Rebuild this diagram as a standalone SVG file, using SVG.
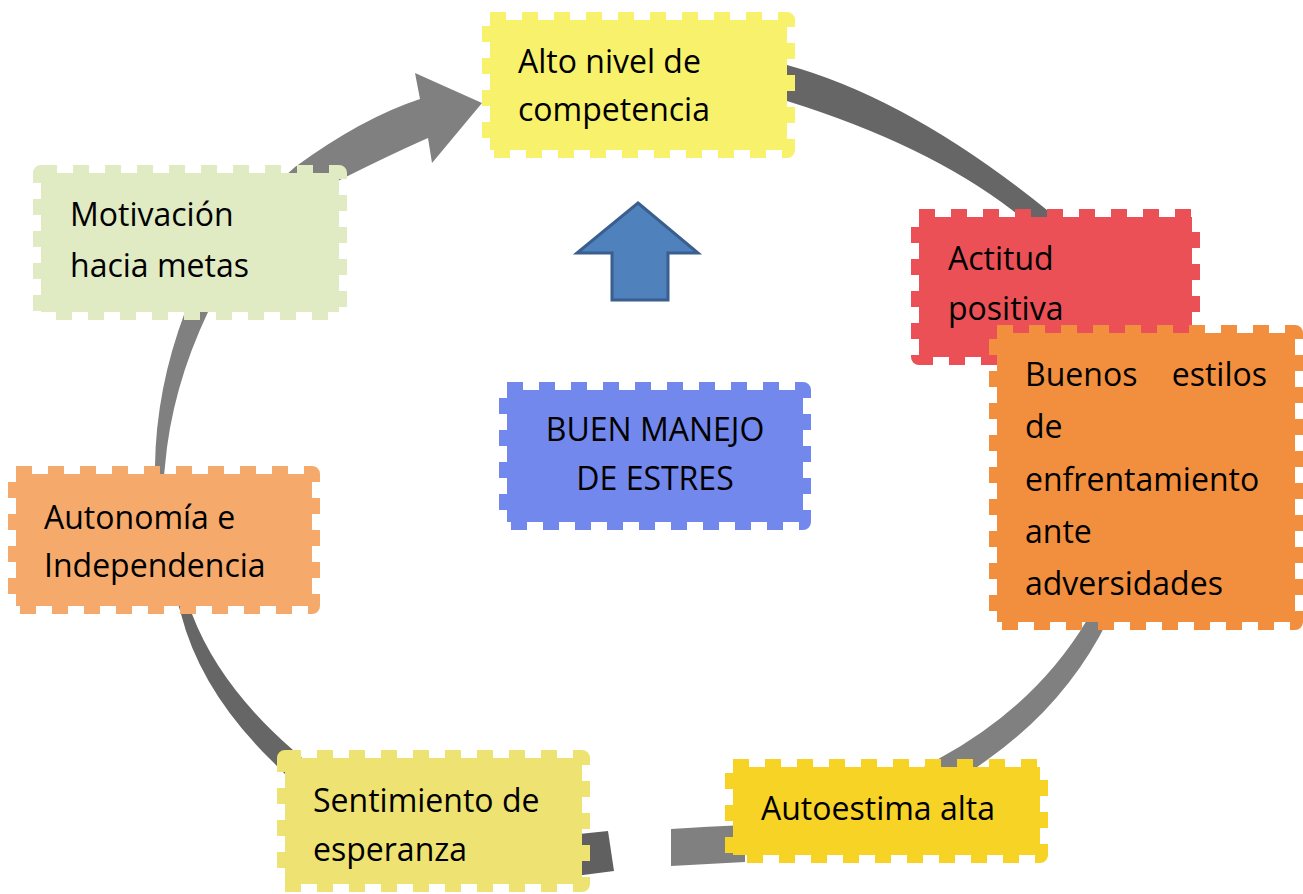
<svg xmlns="http://www.w3.org/2000/svg" width="1303" height="894" viewBox="0 0 1303 894">
<style>
.box{stroke-width:16;stroke-dasharray:16 16;stroke-linejoin:round}
.lbl{font-family:"Open Sans","Liberation Sans",sans-serif;font-size:32px;fill:#000}
.ring-l{fill:#808080}
.ring-d{fill:#666666}
</style>
<rect width="1303" height="894" fill="#ffffff"/>
<g id="connectors">
<path class="ring-d" d="M770,61 L787,65 Q909,98.5 1047,210 L1069,228 L1035,228 L1012,210 Q926.5,144.5 787,101 L770,97 Z"/>
<path class="ring-l" d="M1115,605 L1108,620 Q1066.5,704 987,760 L966,775 L913,773 L940,758 Q1036.5,705 1087,620 L1096,605 Z"/>
<path class="ring-l" d="M671,829 Q708,826.5 745,825 L745,862 Q708,864 671,866 Z"/>
<path fill="#606060" d="M560,836 L608,831 L614,871 L560,878 Z"/>
<path class="ring-d" d="M177,600 L181,614 Q201,692 273,762 L288,777 L310,765 L293,750 Q219.5,686 192,614 L187,600 Z"/>
<path class="ring-l" d="M155,485 L155,466 Q156,389 185,312 L190,298 L215,298 L208,312 Q171.5,389 165,466 L163,485 Z"/>
<path class="ring-l" d="M285,176 L295,167 Q362,118 420,99 L415,73 L482,103 L432,163 L428,138 Q385,157 330,185 Z"/>
</g>
<g id="alto-nivel">
<rect class="box" x="490" y="20" width="297" height="130" fill="#F7F16B" stroke="#F7F16B"/>
<text class="lbl"><tspan x="518" y="73">Alto nivel de</tspan><tspan x="518" y="121">competencia</tspan></text>
</g>
<g id="motivacion">
<rect class="box" x="41" y="173" width="298" height="139" fill="#E0EAC3" stroke="#E0EAC3"/>
<text class="lbl"><tspan x="70" y="226">Motivación</tspan><tspan x="70" y="277">hacia metas</tspan></text>
</g>
<g id="actitud">
<rect class="box" x="919" y="217" width="273" height="140" fill="#EB5057" stroke="#EB5057"/>
<text class="lbl"><tspan x="948" y="270">Actitud</tspan><tspan x="948" y="320">positiva</tspan></text>
</g>
<g id="buenos-estilos">
<rect class="box" x="997" y="333" width="298" height="289" fill="#F18F3E" stroke="#F18F3E"/>
<text class="lbl"><tspan x="1025" y="386">Buenos</tspan><tspan x="1267" y="386" text-anchor="end">estilos</tspan><tspan x="1025" y="438">de</tspan><tspan x="1025" y="491">enfrentamiento</tspan><tspan x="1025" y="543">ante</tspan><tspan x="1025" y="595">adversidades</tspan></text>
</g>
<g id="buen-manejo">
<rect class="box" x="507" y="390" width="296" height="132" fill="#7388EC" stroke="#7388EC"/>
<text class="lbl" text-anchor="middle"><tspan x="655" y="441">BUEN MANEJO</tspan><tspan x="655" y="490">DE ESTRES</tspan></text>
</g>
<g id="autonomia">
<rect class="box" x="16" y="474" width="296" height="132" fill="#F5AA6C" stroke="#F5AA6C"/>
<text class="lbl"><tspan x="44" y="529">Autonomía e</tspan><tspan x="44" y="577">Independencia</tspan></text>
</g>
<g id="sentimiento">
<rect class="box" x="285" y="758" width="297" height="126" fill="#EEE372" stroke="#EEE372"/>
<text class="lbl"><tspan x="313" y="812">Sentimiento de</tspan><tspan x="313" y="861">esperanza</tspan></text>
</g>
<g id="autoestima">
<rect class="box" x="733" y="767" width="307" height="88" fill="#F7D325" stroke="#F7D325"/>
<text class="lbl" x="761" y="820">Autoestima alta</text>
</g>
<g id="up-arrow">
<polygon points="638,203 698,253 668,253 668,300 612,300 612,253 577,253" fill="#4F81BD" stroke="#3A5F8F" stroke-width="3" stroke-linejoin="miter"/>
</g>
</svg>
